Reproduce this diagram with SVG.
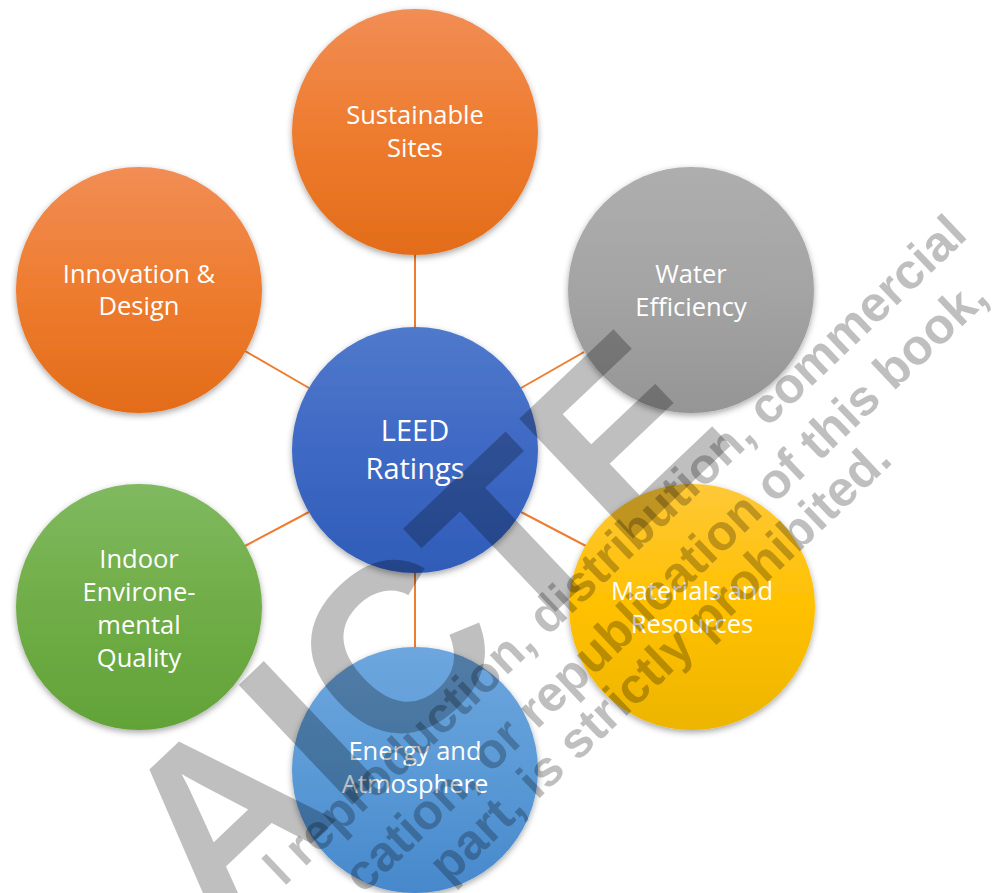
<svg xmlns="http://www.w3.org/2000/svg" width="997" height="893" viewBox="0 0 997 893">
<defs>
<linearGradient id="gOrange" x1="0" y1="0" x2="0" y2="1"><stop offset="0" stop-color="#F18D55"/><stop offset="0.5" stop-color="#EE7C2F"/><stop offset="1" stop-color="#E36C19"/></linearGradient>
<linearGradient id="gGray" x1="0" y1="0" x2="0" y2="1"><stop offset="0" stop-color="#AEAEAE"/><stop offset="0.5" stop-color="#A4A4A4"/><stop offset="1" stop-color="#959595"/></linearGradient>
<linearGradient id="gBlue" x1="0" y1="0" x2="0" y2="1"><stop offset="0" stop-color="#5079CB"/><stop offset="0.5" stop-color="#3E69C4"/><stop offset="1" stop-color="#2F5CB8"/></linearGradient>
<linearGradient id="gLight" x1="0" y1="0" x2="0" y2="1"><stop offset="0" stop-color="#6EA6DE"/><stop offset="0.5" stop-color="#5A9AD6"/><stop offset="1" stop-color="#4788CC"/></linearGradient>
<linearGradient id="gGreen" x1="0" y1="0" x2="0" y2="1"><stop offset="0" stop-color="#80B960"/><stop offset="0.5" stop-color="#70AD47"/><stop offset="1" stop-color="#62A338"/></linearGradient>
<linearGradient id="gYellow" x1="0" y1="0" x2="0" y2="1"><stop offset="0" stop-color="#FFC838"/><stop offset="0.5" stop-color="#FFC000"/><stop offset="1" stop-color="#EDB500"/></linearGradient>
<filter id="sh" x="-20%" y="-20%" width="140%" height="140%"><feDropShadow dx="0" dy="2.5" stdDeviation="3" flood-color="#000" flood-opacity="0.35"/></filter>
</defs>
<style>
.lbl{font-family:"Open Sans","Liberation Sans",sans-serif;font-size:25.5px;fill:#FFFFFF;text-anchor:middle}
.big{font-size:29px}
.con line{stroke:#ED7D31;stroke-width:2}
.wm{font-family:"Liberation Sans",Arial,sans-serif;font-weight:bold;fill:#000;fill-opacity:0.25}
.wmb{font-size:240px}
.wms{font-size:50px;text-anchor:end}
</style>
<rect width="997" height="893" fill="#FFFFFF"/>
<g id="connectors" class="con">
<line x1="415" y1="255" x2="415" y2="327"/>
<line x1="245" y1="351" x2="309" y2="388"/>
<line x1="584" y1="352" x2="521" y2="388"/>
<line x1="245" y1="546" x2="309" y2="512"/>
<line x1="586" y1="546" x2="521" y2="512"/>
<line x1="415" y1="573" x2="415" y2="647"/>
</g>
<g id="node-sustainable-sites">
<circle cx="415" cy="132" r="123" fill="url(#gOrange)" filter="url(#sh)"/>
<text class="lbl" x="415" y="124">Sustainable</text>
<text class="lbl" x="415" y="157">Sites</text>
</g>
<g id="node-water-efficiency">
<circle cx="691" cy="290" r="123" fill="url(#gGray)" filter="url(#sh)"/>
<text class="lbl" x="691" y="283">Water</text>
<text class="lbl" x="691" y="316">Efficiency</text>
</g>
<g id="node-innovation-design">
<circle cx="139" cy="290" r="123" fill="url(#gOrange)" filter="url(#sh)"/>
<text class="lbl" x="139" y="283">Innovation &amp;</text>
<text class="lbl" x="139" y="315">Design</text>
</g>
<g id="node-indoor-environmental-quality">
<circle cx="139" cy="607" r="123" fill="url(#gGreen)" filter="url(#sh)"/>
<text class="lbl" x="139" y="568">Indoor</text>
<text class="lbl" x="139" y="601">Environe-</text>
<text class="lbl" x="139" y="634">mental</text>
<text class="lbl" x="139" y="667">Quality</text>
</g>
<g id="node-materials-resources">
<circle cx="692" cy="607" r="123" fill="url(#gYellow)" filter="url(#sh)"/>
<text class="lbl" x="692" y="600">Materials and</text>
<text class="lbl" x="692" y="633">Resources</text>
</g>
<g id="node-leed-ratings">
<circle cx="415" cy="450" r="123" fill="url(#gBlue)" filter="url(#sh)"/>
<text class="lbl big" x="415" y="441">LEED</text>
<text class="lbl big" x="415" y="479">Ratings</text>
</g>
<g id="node-energy-atmosphere">
<circle cx="415" cy="770" r="123" fill="url(#gLight)" filter="url(#sh)"/>
<text class="lbl" x="415" y="760">Energy and</text>
<text class="lbl" x="415" y="793">Atmosphere</text>
</g>
<g id="watermark" class="wm">
<text class="wmb" x="215" y="935" transform="rotate(-43.5 215 935)">AICTE</text>
<text class="wms" x="969" y="237" transform="rotate(-43.5 969 237)">l reproduction, distribution, commercial</text>
<text class="wms" x="990" y="300" transform="rotate(-43.5 990 300)">cation, or republication of this book,</text>
<text class="wms" x="894" y="462" transform="rotate(-43.5 894 462)">part, is strictly prohibited.</text>
</g>
</svg>
